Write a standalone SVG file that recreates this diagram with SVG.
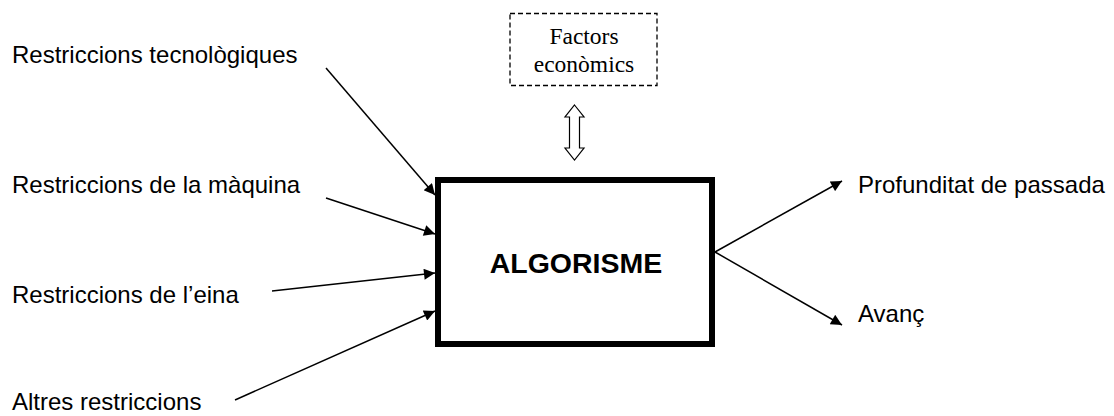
<svg xmlns="http://www.w3.org/2000/svg" width="1114" height="416" viewBox="0 0 1114 416">
  <style>
    .lbl { font-family: "Liberation Sans", Arial, sans-serif; font-size: 24px; fill: #000; }
    .title { font-family: "Liberation Sans", Arial, sans-serif; font-size: 28.5px; font-weight: bold; fill: #000; }
    .serif { font-family: "Liberation Serif", "Times New Roman", serif; font-size: 23.5px; fill: #000; }
    .link { stroke: #000; stroke-width: 1.5; fill: none; marker-end: url(#head); }
  </style>
  <defs>
    <marker id="head" viewBox="0 0 10 10" refX="10" refY="5" markerUnits="userSpaceOnUse" markerWidth="14" markerHeight="11" orient="auto">
      <path d="M0,0 L10,5 L0,10 z" fill="#000"/>
    </marker>
  </defs>
  <rect width="1114" height="416" fill="#fff"/>

  <!-- central process block -->
  <g id="algorisme">
    <rect x="438" y="180" width="274" height="164" fill="#fff" stroke="#000" stroke-width="6"/>
    <text class="title" x="576" y="273" text-anchor="middle">ALGORISME</text>
  </g>

  <!-- economic factors (dashed) -->
  <g id="factors">
    <rect x="510" y="13.5" width="147" height="72" fill="none" stroke="#000" stroke-width="1.3" stroke-dasharray="5,3"/>
    <text class="serif" x="584" y="44" text-anchor="middle">Factors</text>
    <text class="serif" x="584" y="72" text-anchor="middle">econòmics</text>
  </g>

  <!-- inputs -->
  <g id="in-tecnologiques"><text class="lbl" x="12" y="63">Restriccions tecnològiques</text></g>
  <g id="in-maquina"><text class="lbl" x="12" y="193">Restriccions de la màquina</text></g>
  <g id="in-eina"><text class="lbl" x="12" y="303">Restriccions de l’eina</text></g>
  <g id="in-altres"><text class="lbl" x="12" y="410">Altres restriccions</text></g>

  <!-- outputs -->
  <g id="out-profunditat"><text class="lbl" x="858" y="193">Profunditat de passada</text></g>
  <g id="out-avanc"><text class="lbl" x="858" y="322">Avanç</text></g>

  <g id="connectors">
    <line class="link" x1="326" y1="68" x2="435" y2="195"/>
    <line class="link" x1="326" y1="198" x2="435" y2="234"/>
    <line class="link" x1="272" y1="291" x2="435" y2="273"/>
    <line class="link" x1="235" y1="400" x2="435" y2="311"/>
    <line class="link" x1="715" y1="252" x2="842" y2="181"/>
    <line class="link" x1="715" y1="252" x2="842" y2="325"/>
    <!-- hollow two-way arrow between factors and block -->
    <path d="M574.5,105 L584,117 L579.5,117 L579.5,148 L584,148 L574.5,160 L565,148 L569.5,148 L569.5,117 L565,117 Z" fill="#fff" stroke="#000" stroke-width="1.2" stroke-linejoin="miter"/>
  </g>
</svg>
